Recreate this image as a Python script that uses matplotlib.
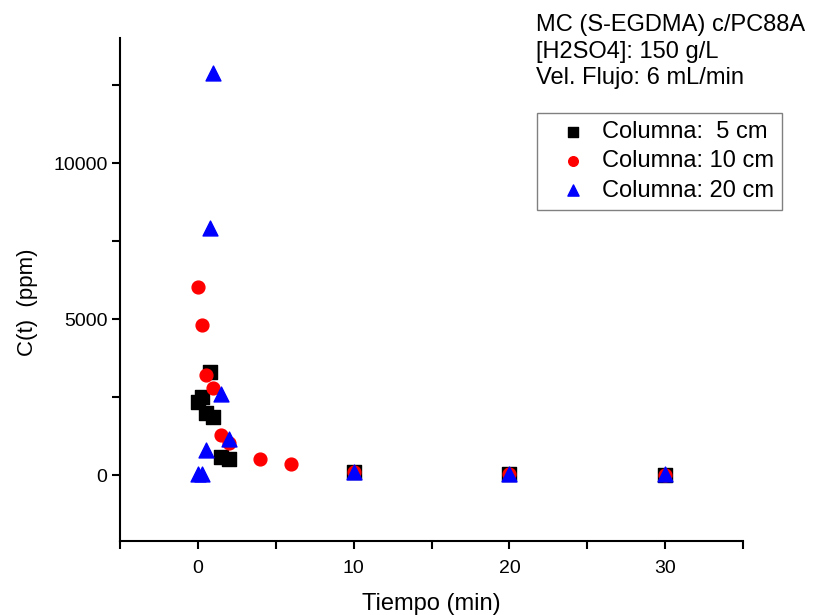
import numpy as np
import matplotlib
matplotlib.use('Agg')
import matplotlib.pyplot as plt
from matplotlib.ticker import MultipleLocator

plt.rcParams['font.family'] = ['Liberation Sans', 'DejaVu Sans']

# Datos: concentracion vs tiempo para tres columnas
t_5 = [0, 0.25, 0.5, 0.75, 1, 1.5, 2, 10, 20, 30]
c_5 = [2350, 2500, 1990, 3300, 1860, 590, 530, 100, 30, 20]

t_10 = [0, 0.25, 0.5, 1, 1.5, 2, 4, 6, 10, 20, 30]
c_10 = [6040, 4820, 3200, 2790, 1300, 1030, 540, 360, 110, 40, 20]

t_20 = [0, 0.25, 0.5, 0.75, 1, 1.5, 2, 10, 20, 30]
c_20 = [50, 50, 800, 7920, 12880, 2620, 1170, 120, 50, 30]

labels = ['Columna:  5 cm', 'Columna: 10 cm', 'Columna: 20 cm']
info = ['MC (S-EGDMA) c/PC88A', '[H2SO4]: 150 g/L', 'Vel. Flujo: 6 mL/min']

fig = plt.figure(figsize=(8.14, 6.15), dpi=100)
ax = fig.add_axes([0.1474, 0.1203, 0.7654, 0.8177])

ax.scatter(t_5, c_5, marker='s', s=88, color='black', label=labels[0], zorder=3)
ax.scatter(t_10, c_10, marker='o', s=85, color='#ff0000', label=labels[1], zorder=3)
ax.scatter(t_20, c_20, marker='^', s=115, color='#0000ff', label=labels[2], zorder=3)

ax.set_xlim(-5, 35)
ax.set_ylim(-2100, 14000)
ax.xaxis.set_major_locator(MultipleLocator(10))
ax.xaxis.set_minor_locator(MultipleLocator(5))
ax.yaxis.set_major_locator(MultipleLocator(5000))
ax.yaxis.set_minor_locator(MultipleLocator(2500))

for side in ['top', 'right']:
    ax.spines[side].set_visible(False)
ax.spines['left'].set_linewidth(1.5)
ax.spines['bottom'].set_linewidth(1.5)
ax.tick_params(which='both', direction='out', width=1.5, length=6, labelsize=14)
ax.tick_params(axis='x', pad=8)
ax.tick_params(axis='y', pad=3)

ax.set_xlabel('Tiempo (min)', fontsize=17)
ax.xaxis.set_label_coords(0.5, -0.103)
ax.set_ylabel('C(t)  (ppm)', fontsize=16)
ax.yaxis.set_label_coords(-0.132, 0.475)

# Texto de condiciones, una linea cada vez
for i, line in enumerate(info):
    fig.text(0.659, 0.9488 - i * 0.0423, line, fontsize=17, va='baseline', ha='left')

leg = ax.legend(loc='upper left', bbox_to_anchor=(0.6597, 0.8168),
                bbox_transform=fig.transFigure, borderaxespad=0, fontsize=17,
                frameon=True, fancybox=False, edgecolor='#808080', framealpha=1,
                handlelength=2.31, handletextpad=0.06, borderpad=0.37,
                labelspacing=0.30, scatterpoints=1, markerscale=0.75)
leg.get_frame().set_linewidth(1.0)

fig.savefig('out.png', dpi=100)
